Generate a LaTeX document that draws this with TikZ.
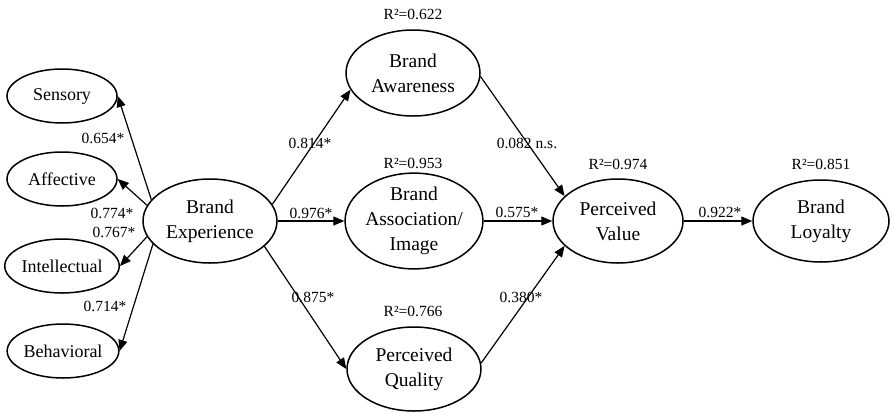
\documentclass[tikz,border=0pt]{standalone}
\usepackage{fontspec}
\setmainfont{Liberation Serif}
\usetikzlibrary{shapes.geometric,arrows.meta}
\tikzset{
  latent/.style={ellipse,draw,line width=1.5pt,inner sep=0pt,align=center,
    font=\fontsize{19.5}{25}\selectfont,minimum width=134pt,minimum height=84pt},
  dim/.style={ellipse,draw,line width=1.5pt,inner sep=0pt,align=center,
    font=\fontsize{18}{21}\selectfont,minimum width=110pt,minimum height=54pt},
  lab/.style={inner sep=0pt,font=\fontsize{15.5}{18}\selectfont},
  path/.style={line width=1.2pt,-{Triangle[length=11pt,width=9pt]}}
}
\begin{document}
\begin{tikzpicture}[x=1pt,y=-1pt]
\useasboundingbox (0,0) rectangle (891,413);
% dimensions
\node[dim] (sens) at (62,96) {Sensory};
\node[dim] (aff) at (62,179) {Affective};
\node[dim] (int) at (62,266) {Intellectual};
\node[dim] (beh) at (63,351) {Behavioral};
% latent constructs
\node[latent] (be) at (210,221) {Brand\\Experience};
\node[latent,minimum height=86pt] (aw) at (413,73) {Brand\\Awareness};
\node[latent] (as) at (414,221) {Brand\\Association/\\Image};
\node[latent] (pq) at (414,369) {Perceived\\Quality};
\node[latent,minimum width=130pt] (pv) at (618,221) {Perceived\\Value};
\node[latent,minimum width=136pt,minimum height=82pt] (bl) at (821,221) {Brand\\Loyalty};
% R squared
\node[lab] (r1) at (413,14) {R²=0.622};
\node[lab] (r2) at (413,163) {R²=0.953};
\node[lab] (r3) at (413,311) {R²=0.766};
\node[lab] (r4) at (618,164) {R²=0.974};
\node[lab] (r5) at (821,164) {R²=0.851};
% connectors
\draw[path] (be.160) -- (sens.east);
\draw[path] (be.166) -- (aff.east);
\draw[path] (be.194) -- (int.east);
\draw[path] (be.202) -- (beh.east);
\draw[path] (be.15) -- (aw.195);
\draw[path] (be.east) -- (as.west);
\draw[path] (be.-25) -- (pq.west);
\draw[path] (aw.-3) -- (pv.155);
\draw[path] (as.east) -- (pv.west);
\draw[path] (pq.5) -- (pv.205);
\draw[path] (pv.east) -- (bl.west);
% path labels
\node[lab] (l1) at (103,138) {0.654*};
\node[lab] (l2) at (112,213) {0.774*};
\node[lab] (l3) at (114,232) {0.767*};
\node[lab] (l4) at (105,306) {0.714*};
\node[lab] (l5) at (310,143) {0.814*};
\node[lab] (l6) at (311,213) {0.976*};
\node[lab] (l7) at (313,297) {0.875*};
\node[lab] (l8) at (527,143) {0.082 n.s.};
\node[lab] (l9) at (517,212) {0.575*};
\node[lab] (l10) at (521,297) {0.380*};
\node[lab] (l11) at (720,212) {0.922*};
\end{tikzpicture}
\end{document}
